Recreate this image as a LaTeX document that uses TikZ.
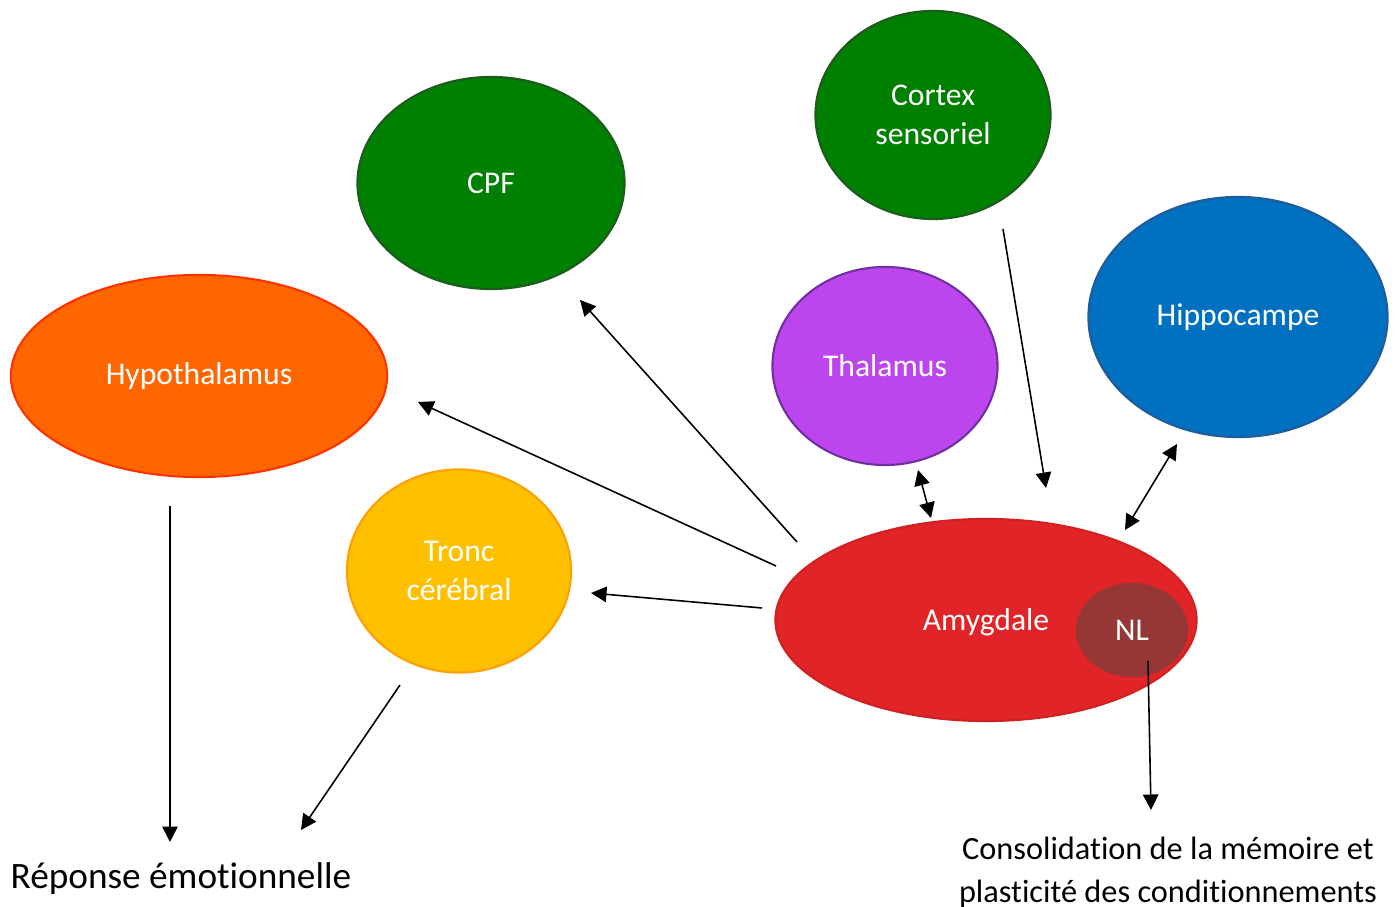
\documentclass[tikz,border=0pt]{standalone}
\usepackage{fontspec}
\setmainfont{Carlito}[Ligatures={NoCommon,NoContextual}]
\usetikzlibrary{shapes.geometric,arrows.meta}
\definecolor{vertcpf}{HTML}{008000}
\definecolor{vertbord}{HTML}{1E5B1E}
\definecolor{orhypo}{HTML}{FF6600}
\definecolor{orbord}{HTML}{FF3300}
\definecolor{violthal}{HTML}{BC45EE}
\definecolor{violbord}{HTML}{7030A0}
\definecolor{bleuhip}{HTML}{0070C0}
\definecolor{bleubord}{HTML}{1F5C99}
\definecolor{jaunetr}{HTML}{FFC000}
\definecolor{jaunebord}{HTML}{FFA000}
\definecolor{rougeamy}{HTML}{E12427}
\definecolor{rougebord}{HTML}{D02020}
\definecolor{brunnl}{HTML}{953735}

\begin{document}
\begin{tikzpicture}[x=0.01cm,y=-0.01cm,>={Triangle[length=4.4pt,width=4.4pt]},
   zone/.style={ellipse,draw,line width=0.6pt,inner sep=0pt,text=white,align=center,
     font=\fontsize{9}{11}\selectfont},
   fl/.style={->,line width=0.45pt},
   sortie/.style={inner sep=0pt,align=center,text=black}]
\useasboundingbox (0,0) rectangle (1399,907);
% structures
\node[zone,fill=vertcpf,draw=vertbord,minimum width=2.67cm,minimum height=2.12cm] (cpf) at (491,183) {CPF};
\node[zone,fill=vertcpf,draw=vertbord,minimum width=2.35cm,minimum height=2.08cm] (cortex) at (933,115) {Cortex\\sensoriel};
\node[zone,fill=orhypo,draw=orbord,minimum width=3.76cm,minimum height=2.02cm] (hypo) at (199,376) {Hypothalamus};
\node[zone,fill=violthal,draw=violbord,minimum width=2.25cm,minimum height=1.98cm] (thal) at (885,366) {Thalamus};
\node[zone,fill=bleuhip,draw=bleubord,minimum width=2.99cm,minimum height=2.40cm] (hippo) at (1238,317) {Hippocampe};
\node[zone,fill=jaunetr,draw=jaunebord,minimum width=2.24cm,minimum height=2.03cm] (tronc) at (459,571) {Tronc\\cérébral};
\node[zone,fill=rougeamy,draw=rougebord,minimum width=4.21cm,minimum height=2.02cm] (amy) at (986,620) {};
\node[text=white,font=\fontsize{9}{11}\selectfont] (amylbl) at (986,622) {Amygdale};
\node[zone,fill=brunnl,draw=brunnl,minimum width=1.10cm,minimum height=0.92cm] (nl) at (1132,630) {NL};
% sorties
\node[sortie,anchor=base west,font=\fontsize{10.6}{13}\selectfont] (rep) at (10,889) {Réponse émotionnelle};
\node[sortie,font=\fontsize{9.2}{12.2}\selectfont] (conso) at (1168,872) {Consolidation de la mémoire et\\plasticité des conditionnements};
% extremites des fleches
\coordinate (a1) at (797,542);  \coordinate (c1) at (580,300);
\coordinate (a2) at (776,566);  \coordinate (h2) at (418,402);
\coordinate (a3) at (762,608);  \coordinate (t3) at (591,593);
\coordinate (th4) at (918,470); \coordinate (a4) at (931,518);
\coordinate (co5) at (1003,229); \coordinate (a5) at (1046,488);
\coordinate (hi6) at (1177,444); \coordinate (a6) at (1125,530);
\coordinate (n7) at (1148,661); \coordinate (s7) at (1151,810);
\coordinate (h8) at (170,506);  \coordinate (r8) at (170,842);
\coordinate (t9) at (400,685);  \coordinate (r9) at (301,830);
\draw[fl] (a1) -- (c1);
\draw[fl] (a2) -- (h2);
\draw[fl] (a3) -- (t3);
\draw[fl,<->] (th4) -- (a4);
\draw[fl] (co5) -- (a5);
\draw[fl,<->] (hi6) -- (a6);
\draw[fl] (n7) -- (s7);
\draw[fl] (h8) -- (r8);
\draw[fl] (t9) -- (r9);
\end{tikzpicture}
\end{document}
